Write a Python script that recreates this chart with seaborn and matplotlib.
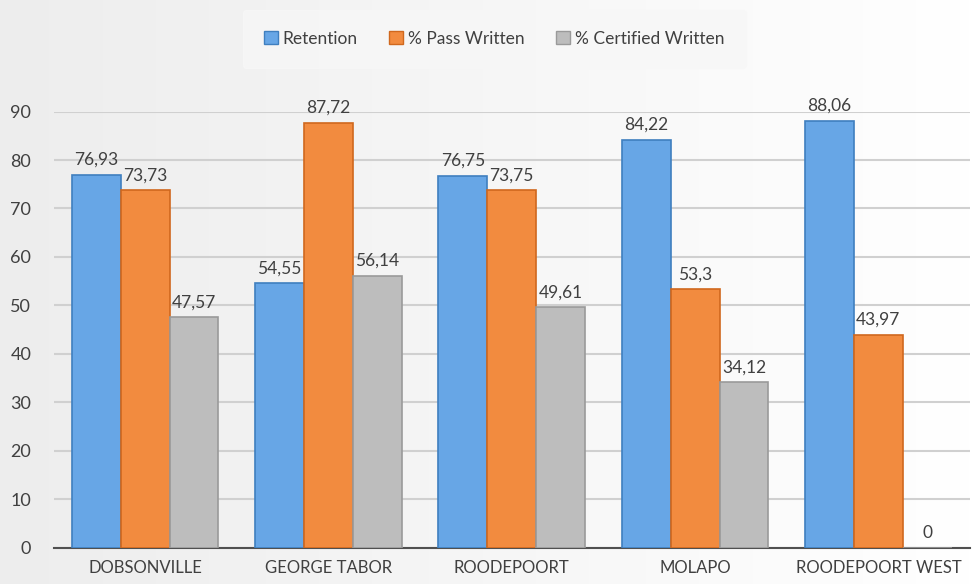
import matplotlib
matplotlib.use("Agg")
import matplotlib.pyplot as plt
import seaborn as sns
import pandas as pd
import numpy as np
from matplotlib.patches import Rectangle

schools = ["DOBSONVILLE", "GEORGE TABOR", "ROODEPOORT", "MOLAPO", "ROODEPOORT WEST"]
series = ["Retention", "% Pass Written", "% Certified Written"]
retention = [76.93, 54.55, 76.75, 84.22, 88.06]
pass_written = [73.73, 87.72, 73.75, 53.3, 43.97]
certified_written = [47.57, 56.14, 49.61, 34.12, 0]
yticks = [0, 10, 20, 30, 40, 50, 60, 70, 80, 90]

colors = ["#67A6E6", "#F28B3F", "#BDBDBD"]
edges = ["#3F7FBF", "#D0681E", "#9A9A9A"]

df = pd.DataFrame({
    "school": schools * 3,
    "series": [s for s in series for _ in schools],
    "value": retention + pass_written + certified_written,
})

sns.set_theme(style="white")
plt.rcParams["font.family"] = ["Lato", "DejaVu Sans"]

fig = plt.figure(figsize=(9.73, 5.84), dpi=100)
# background gradient
bg = fig.add_axes([0, 0, 1, 1], zorder=-10)
grad = np.linspace(0.93, 1.0, 256).reshape(1, -1)
grad = np.vstack([grad] * 4)
bg.imshow(np.dstack([grad, grad, grad]), aspect="auto", extent=[0, 1, 0, 1])
bg.set_axis_off()

ax = fig.add_axes([0.055, 0.062, 0.942, 0.747])
ax.patch.set_alpha(0)

sns.barplot(data=df, x="school", y="value", hue="series", palette=colors,
            width=0.8, ax=ax, legend=False, saturation=1, zorder=3)

for cont, ec in zip(ax.containers, edges):
    for p in cont.patches:
        p.set_edgecolor(ec)
        p.set_linewidth(1.2)

# data labels
for cont, vals in zip(ax.containers, [retention, pass_written, certified_written]):
    for p, v in zip(cont.patches, vals):
        txt = f"{v:g}".replace(".", ",")
        ax.annotate(txt, (p.get_x() + p.get_width() / 2, p.get_height()),
                    xytext=(0, 5), textcoords="offset points",
                    ha="center", va="bottom", fontsize=12.5, color="#404040")

ax.set_ylim(0, 90)
ax.set_xlim(-0.5, 4.5)
ax.set_yticks(yticks)
ax.set_yticklabels([str(t) for t in yticks], fontsize=13, color="#404040")
ax.tick_params(axis="y", pad=16, length=0)
ax.tick_params(axis="x", labelsize=12, colors="#404040", length=0, pad=9)
ax.set_xlabel("")
ax.set_ylabel("")
for s in ["top", "right", "left"]:
    ax.spines[s].set_visible(False)
ax.spines["bottom"].set_color("#505050")
ax.spines["bottom"].set_linewidth(1.5)
ax.yaxis.grid(True, color="#D0D0D0", linewidth=1.5, zorder=0)
ax.set_axisbelow(True)

# legend
handles = [Rectangle((0, 0), 1, 1, facecolor=c, edgecolor=e) for c, e in zip(colors, edges)]
leg = fig.legend(handles, series, loc="upper center", bbox_to_anchor=(0.508, 0.995),
                 ncol=3, frameon=True, fontsize=12.5, handlelength=0.8, handleheight=0.8,
                 handletextpad=0.3, columnspacing=1.8, borderpad=1.2, borderaxespad=0.4)
leg.get_frame().set_facecolor("#F7F7F7")
leg.get_frame().set_edgecolor("#F7F7F7")
for t in leg.get_texts():
    t.set_color("#404040")

fig.savefig("out.png", dpi=100)
